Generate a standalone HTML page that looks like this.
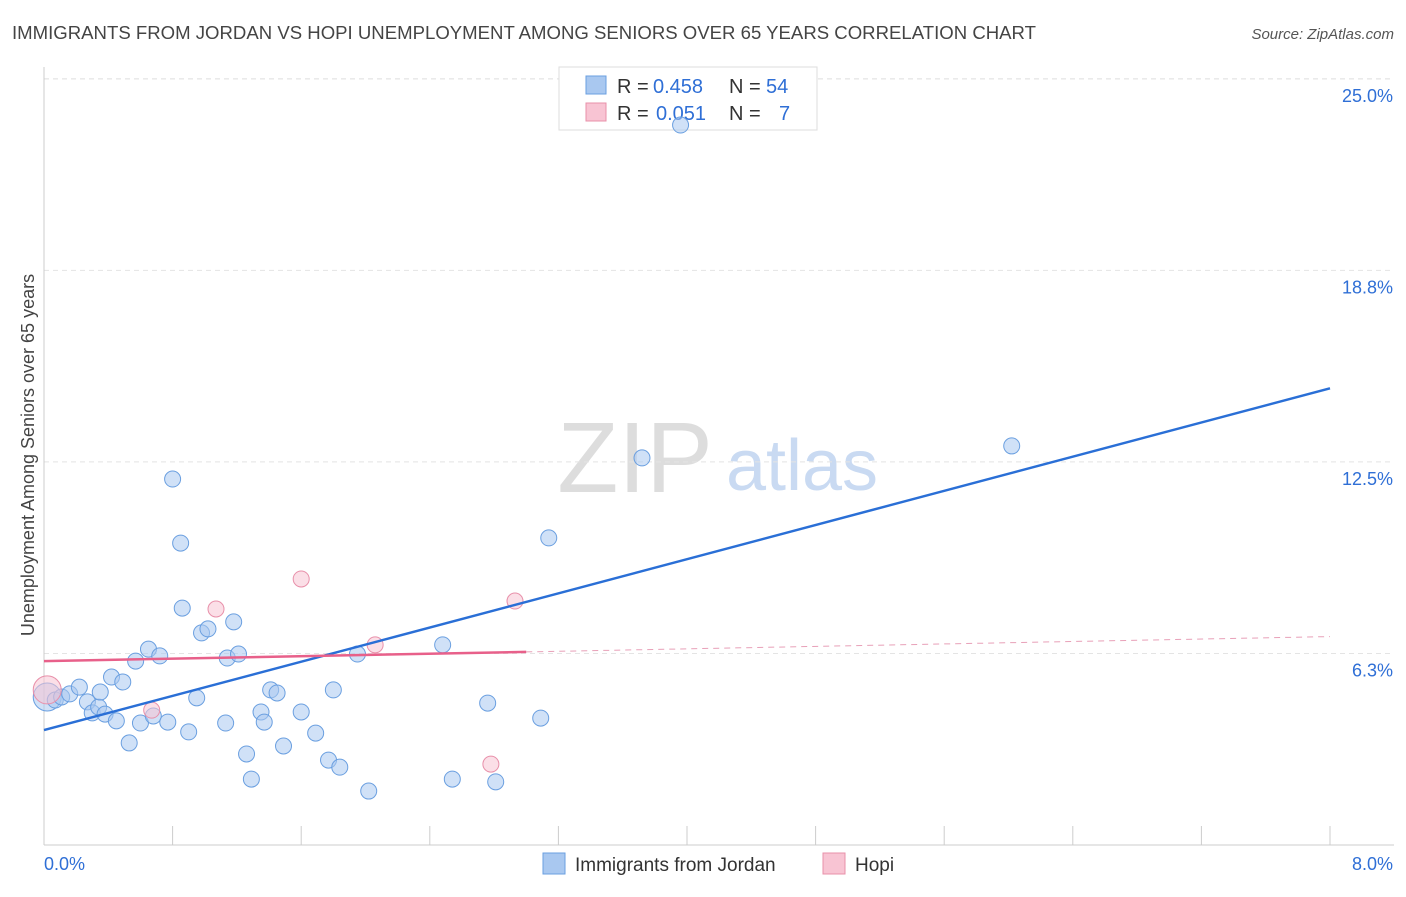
<!DOCTYPE html>
<html><head><meta charset="utf-8"><style>
body{margin:0;background:#fff;font-family:"Liberation Sans",sans-serif}
svg text{font-family:"Liberation Sans",sans-serif}
</style></head><body>
<svg id="c" width="1406" height="892">
<text x="12" y="39" font-size="18" fill="#444" textLength="1024" lengthAdjust="spacingAndGlyphs">IMMIGRANTS FROM JORDAN VS HOPI UNEMPLOYMENT AMONG SENIORS OVER 65 YEARS CORRELATION CHART</text>
<text x="1394" y="39" font-size="15" fill="#555" text-anchor="end" font-style="italic">Source: ZipAtlas.com</text>
<text x="635" y="492" font-size="100" fill="#ddd" font-family="Liberation Serif" text-anchor="middle">ZIP</text>
<text x="802" y="490" font-size="72" fill="#c9daf2" text-anchor="middle">atlas</text>
<text transform="translate(34,455) rotate(-90)" font-size="18" fill="#444" text-anchor="middle">Unemployment Among Seniors over 65 years</text>
<g id="grid"></g>
<g>
<rect x="559" y="67" width="258" height="63" fill="#fff" stroke="#ddd"/>
<rect x="586" y="76" width="20" height="18" fill="#a9c8f0" stroke="#6a9fe0"/>
<text x="617" y="93" font-size="20" fill="#333">R =</text>
<text x="653" y="93" font-size="20" fill="#2f6fd6">0.458</text>
<text x="729" y="93" font-size="20" fill="#333">N =</text>
<text x="766" y="93" font-size="20" fill="#2f6fd6">54</text>
<rect x="586" y="103" width="20" height="18" fill="#f8c4d3" stroke="#e890aa"/>
<text x="617" y="120" font-size="20" fill="#333">R =</text>
<text x="656" y="120" font-size="20" fill="#2f6fd6">0.051</text>
<text x="729" y="120" font-size="20" fill="#333">N =</text>
<text x="779" y="120" font-size="20" fill="#2f6fd6">7</text>
</g>
<g id="marks"></g>
<g>
<rect x="543" y="853" width="22" height="21" fill="#a9c8f0" stroke="#6a9fe0"/>
<text x="575" y="871" font-size="19" fill="#333">Immigrants from Jordan</text>
<rect x="823" y="853" width="22" height="21" fill="#f8c4d3" stroke="#e890aa"/>
<text x="855" y="871" font-size="19" fill="#333">Hopi</text>
</g>
</svg>
<script>
const yTicks=[6.25,12.5,18.75,25];
const yTickLabels=["6.3%","12.5%","18.8%","25.0%"];
const xTickCount=10;
const blueX=[.02,.07,.11,.16,.22,.27,.30,.34,.38,.42,.45,.49,.53,.57,.60,.65,.68,.72,.77,.80,.85,.86,.90,.95,.98,1.02,1.13,1.14,1.18,1.21,1.26,1.29,1.35,1.37,1.41,1.45,1.49,1.60,1.69,1.77,1.80,1.84,1.95,2.02,2.48,2.54,2.76,2.81,3.09,3.14,3.72,3.96,6.02,.35];
const blueY=[4.83,4.73,4.83,4.93,5.15,4.67,4.31,4.50,4.27,5.48,4.05,5.32,3.33,6.00,3.98,6.39,4.21,6.17,4.01,11.94,9.85,7.73,3.69,4.80,6.92,7.05,3.98,6.10,7.28,6.23,2.97,2.15,4.34,4.01,5.06,4.96,3.23,4.34,3.65,2.77,5.06,2.54,6.23,1.76,6.53,2.15,4.63,2.06,4.14,10.02,12.63,23.49,13.02,4.99];
const pinkX=[.02,.67,1.07,1.60,2.06,2.93,2.78];
const pinkY=[5.06,4.40,7.70,8.68,6.53,7.96,2.64];
const blueTrend=[3.75,14.9];
const pinkTrend=[6.0,6.8];
const pinkSolidEnd=3.0;
const X=v=>44+v*160.75, Y=v=>845-v*30.65;
const NS="http://www.w3.org/2000/svg";
function mk(p,t,a){const e=document.createElementNS(NS,t);for(const k in a)e.setAttribute(k,a[k]);p.appendChild(e);return e;}
const g=document.getElementById('grid'), m=document.getElementById('marks');
yTicks.forEach((t,i)=>{
 const l=mk(g,'line',{x1:44,x2:1394,y1:Y(t),y2:Y(t),stroke:'#e4e4e4','stroke-dasharray':'5,4'});
 
 
 const tx=mk(g,'text',{x:1393,y:Y(t)+23,'font-size':18,fill:'#2f6fd6','text-anchor':'end'});tx.textContent=yTickLabels[i];
 
 
});
mk(g,'line',{x1:44,x2:1394,y1:79,y2:79,stroke:'#e4e4e4','stroke-dasharray':'5,4'});
mk(g,'line',{x1:44,x2:44,y1:67,y2:845,stroke:'#ccc'});
const xa=mk(g,'line',{x1:44,x2:1394,y1:845,y2:845,stroke:'#ccc'});


for(let i=0;i<=xTickCount;i++){const x=X(i*0.8);const t=mk(g,'line',{x1:x,x2:x,y1:826,y2:845,stroke:'#ccc'});
 
 }
let a=mk(g,'text',{x:44,y:870,'font-size':18,fill:'#2f6fd6'});a.textContent='0.0%';


a=mk(g,'text',{x:1393,y:870,'font-size':18,fill:'#2f6fd6','text-anchor':'end'});a.textContent='8.0%';


blueX.forEach((v,i)=>{const c=mk(m,'circle',{cx:X(v),cy:Y(blueY[i]),r:i==0?14:8,fill:'rgba(169,200,240,0.55)',stroke:'#6a9fe0','stroke-width':1});
 
 });
pinkX.forEach((v,i)=>{const c=mk(m,'circle',{cx:X(v),cy:Y(pinkY[i]),r:i==0?14:8,fill:'rgba(248,196,211,0.55)',stroke:'#e890aa','stroke-width':1});
 
 });
let l=mk(m,'line',{x1:X(0),y1:Y(blueTrend[0]),x2:X(8),y2:Y(blueTrend[1]),stroke:'#2a6fd6','stroke-width':2.5});


const pAt=v=>pinkTrend[0]+(pinkTrend[1]-pinkTrend[0])*v/8;
l=mk(m,'line',{x1:X(0),y1:Y(pAt(0)),x2:X(pinkSolidEnd),y2:Y(pAt(pinkSolidEnd)),stroke:'#e8608a','stroke-width':2.5});


l=mk(m,'line',{x1:X(pinkSolidEnd),y1:Y(pAt(pinkSolidEnd)),x2:X(8),y2:Y(pAt(8)),stroke:'#e8a0b8','stroke-width':1,'stroke-dasharray':'6,5'});


</script>
</body></html>
